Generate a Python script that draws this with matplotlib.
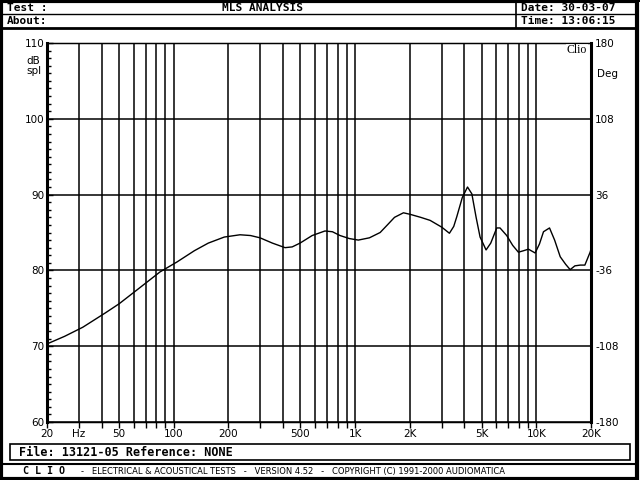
import matplotlib
matplotlib.use("Agg")
import matplotlib.pyplot as plt
from matplotlib.lines import Line2D
from matplotlib.patches import Rectangle

# frequency response (Hz, dB spl)
freq = [20, 25, 31.5, 42, 50, 62.5, 84, 104, 130, 155, 190, 232, 265, 299, 350,
        411, 450, 497, 580, 682, 750, 826, 930, 1042, 1200, 1375, 1507, 1650,
        1848, 2010, 2300, 2593, 3008, 3313, 3500, 3640, 3900, 4169, 4405, 4650,
        4890, 5277, 5600, 6042, 6300, 6858, 7400, 7955, 8500, 9035, 9840, 10400,
        10940, 11810, 12600, 13530, 14500, 15350, 16300, 17450, 18500, 19780, 20000]
spl = [70.3, 71.3, 72.5, 74.4, 75.6, 77.4, 79.8, 81.1, 82.6, 83.6, 84.4, 84.7, 84.6,
       84.3, 83.6, 83.0, 83.1, 83.6, 84.6, 85.2, 85.1, 84.6, 84.2, 84.0, 84.3, 85.0,
       86.0, 87.0, 87.6, 87.4, 87.0, 86.6, 85.7, 84.9, 85.8, 87.1, 89.6, 91.0, 90.1,
       87.0, 84.4, 82.7, 83.6, 85.6, 85.6, 84.6, 83.3, 82.4, 82.6, 82.8, 82.3, 83.5,
       85.1, 85.6, 84.0, 81.8, 80.8, 80.1, 80.6, 80.7, 80.7, 82.4, 82.8]

grid_freqs = [20, 30, 40, 50, 60, 70, 80, 90, 100, 200, 300, 400, 500, 600, 700, 800,
              900, 1000, 2000, 3000, 4000, 5000, 6000, 7000, 8000, 9000, 10000, 20000]
x_ticks = [20, 30, 50, 100, 200, 500, 1000, 2000, 5000, 10000, 20000]
x_labels = ["20", "Hz", "50", "100", "200", "500", "1K", "2K", "5K", "10K", "20K"]
y_ticks = [60, 70, 80, 90, 100, 110]
deg_labels = ["-180", "-108", "-36", "36", "108", "180"]

W, H = 640, 480
fig = plt.figure(figsize=(6.4, 4.8), dpi=100)


def fx(px):
    return px / W


def fy(py):
    return 1 - py / H


def hline(y, x0, x1, lw=1.0):
    fig.add_artist(Line2D([fx(x0), fx(x1)], [fy(y), fy(y)], color="black", lw=lw))


def vline(x, y0, y1, lw=1.0):
    fig.add_artist(Line2D([fx(x), fx(x)], [fy(y0), fy(y1)], color="black", lw=lw))


# outer frame and header / footer boxes
fig.add_artist(Rectangle((0.002, 0.003), 0.994, 0.995, transform=fig.transFigure,
                         fill=False, ec="black", lw=3))
hline(1, 0, 640, 1.5)
hline(14, 3, 637, 1.0)
hline(27.5, 3, 637, 2.0)
vline(516, 1, 27.5, 1.2)
hline(464, 3, 637, 1.5)
fig.add_artist(Rectangle((fx(10), fy(460)), fx(620), 16 / H,
                         transform=fig.transFigure, fill=False, ec="black", lw=1.2))

mono = dict(family="DejaVu Sans Mono", fontweight="bold", fontsize=8)
fig.text(fx(7), fy(8.2), "Test :", va="center", ha="left", **mono)
fig.text(fx(263), fy(8.2), "MLS ANALYSIS", va="center", ha="center", **mono)
fig.text(fx(521), fy(8.2), "Date: 30-03-07", va="center", ha="left", **mono)
fig.text(fx(7), fy(21), "About:", va="center", ha="left", **mono)
fig.text(fx(521), fy(21), "Time: 13:06:15", va="center", ha="left", **mono)
fig.text(fx(19), fy(452), "File: 13121-05 Reference: NONE", va="center", ha="left",
         family="DejaVu Sans Mono", fontweight="bold", fontsize=8.5)
fig.text(fx(23), fy(471.5), "C L I O", va="center", ha="left",
         family="DejaVu Sans Mono", fontweight="bold", fontsize=7.2)
fig.text(fx(81), fy(471.5),
         "-   ELECTRICAL & ACOUSTICAL TESTS   -   VERSION 4.52   -   COPYRIGHT (C) 1991-2000 AUDIOMATICA",
         va="center", ha="left", family="DejaVu Sans", fontsize=6.0)

# main plot
ax = fig.add_axes([fx(47), fy(422), fx(591) - fx(47), fy(43) - fy(422)])
ax.set_xscale("log")
ax.set_xlim(20, 20000)
ax.set_ylim(60, 110)
for g in grid_freqs:
    ax.axvline(g, color="black", lw=1.1, zorder=1)
for yv in y_ticks:
    ax.axhline(yv, color="black", lw=1.1, zorder=1)
ax.plot(freq, spl, color="black", lw=1.0, zorder=3)

ax.set_xticks(x_ticks)
ax.set_xticklabels(x_labels)
ax.xaxis.set_minor_locator(matplotlib.ticker.FixedLocator(grid_freqs))
ax.tick_params(axis="x", which="both", direction="out", length=4, width=1,
               labelsize=7.5, pad=1)
ax.tick_params(axis="x", which="minor", labelbottom=False)
ax.set_yticks(y_ticks)
ax.set_yticklabels([str(v) for v in y_ticks])
ax.yaxis.set_minor_locator(matplotlib.ticker.MultipleLocator(1))
ax.tick_params(axis="y", which="both", direction="in", length=3, width=1,
               labelsize=7.5, pad=2, right=True)
ax.tick_params(axis="y", which="major", length=4)

ax2 = ax.twinx()
ax2.set_ylim(60, 110)
ax2.set_yticks(y_ticks)
ax2.set_yticklabels(deg_labels)
ax2.tick_params(axis="y", direction="in", length=0, labelsize=7.5, pad=3)

for s in ax.spines.values():
    s.set_linewidth(1.0)
ax.spines["left"].set_linewidth(2.2)
ax.spines["right"].set_linewidth(2.2)

fig.text(fx(26), fy(66), "dB\nspl", ha="left", va="center", fontsize=7.5, linespacing=1.0)
fig.text(fx(597), fy(74), "Deg", ha="left", va="center", fontsize=7.5)
ax.text(0.974, 0.997, "Clio", transform=ax.transAxes, ha="center", va="top",
        family="Liberation Serif", fontsize=8.5, zorder=4,
        bbox=dict(fc="white", ec="none", pad=0.5))

fig.savefig("out.png", dpi=100)
